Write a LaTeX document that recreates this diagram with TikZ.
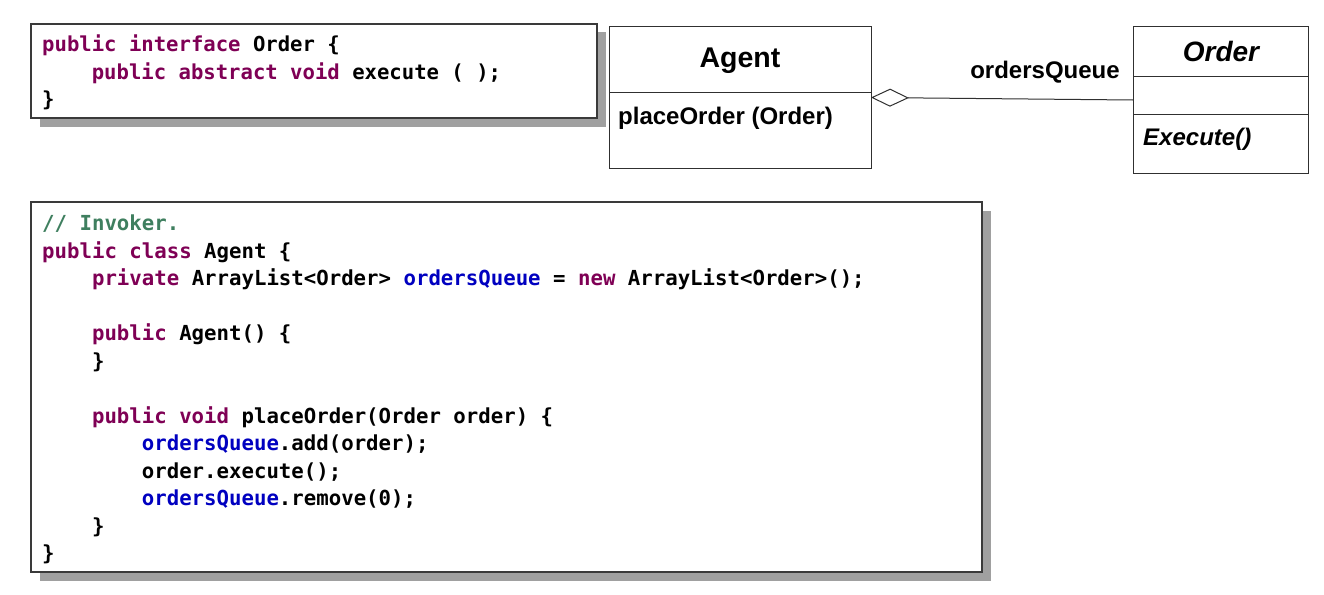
\documentclass[tikz,border=0pt]{standalone}
\usepackage{fontspec}
\setmainfont{Liberation Sans}
\newfontfamily\codefam{DejaVu Sans Mono}
\usetikzlibrary{arrows.meta,shadows}
\definecolor{kwc}{HTML}{7F0055}
\definecolor{fldc}{HTML}{0000C0}
\definecolor{cmtc}{HTML}{3F7F5F}
\definecolor{shadowgray}{HTML}{A0A0A0}
\definecolor{borderc}{HTML}{3A3A3A}
\definecolor{linec}{HTML}{303030}
\newcommand\kw[1]{\textcolor{kwc}{#1}}
\newcommand\fd[1]{\textcolor{fldc}{#1}}
\newcommand\cm[1]{\textcolor{cmtc}{#1}}
\newcommand\ind{\hphantom{0000}}
\newcommand\codesize{\codefam\bfseries\fontsize{20.6}{27.3}\selectfont}
\newcommand\codesizeB{\codefam\bfseries\fontsize{20.7}{27.5}\selectfont}
\tikzset{
  codebox/.style={draw=borderc, line width=1.3pt, fill=white, inner sep=0pt, outer sep=0pt,
    anchor=north west,
    drop shadow={shadow xshift=8.5pt, shadow yshift=-8.5pt, fill=shadowgray, opacity=1}},
  codetext/.style={anchor=north west, align=left, inner sep=0pt, font=\codesize},
  codetextB/.style={anchor=north west, align=left, inner sep=0pt, font=\codesizeB},
  classbox/.style={draw=linec, line width=1pt, fill=white, inner sep=0pt, outer sep=0pt, anchor=north west},
  divider/.style={draw=linec, line width=1pt},
  titletext/.style={font=\bfseries\fontsize{28.5}{32}\selectfont, inner sep=0pt},
  titleitalic/.style={font=\bfseries\itshape\fontsize{28}{32}\selectfont, inner sep=0pt},
  membertext/.style={font=\bfseries\fontsize{24}{28}\selectfont, inner sep=0pt, anchor=west},
  memberitalic/.style={font=\bfseries\itshape\fontsize{24}{28}\selectfont, inner sep=0pt, anchor=west},
  aggline/.style={draw=linec, line width=1pt, {Diamond[open, length=38pt, width=18pt, line width=1pt]}-},
}
\begin{document}
\begin{tikzpicture}[x=1pt, y=-1pt]
\useasboundingbox (0,0) rectangle (1324,594);
% interface code box
\node[codebox, minimum width=566pt, minimum height=94pt] (ifacebox) at (31,24) {};
\node[codetext] (ifacecode) at (42,32.4) {%
\strut\kw{public interface} Order \{\\
\strut\ind\kw{public abstract void} execute ( );\\
\strut\}};
% big code box
\node[codebox, minimum width=951pt, minimum height=370pt] (agentbox) at (31,202) {};
\node[codetextB] (agentcode) at (42,211.2) {%
\strut\cm{// Invoker.}\\
\strut\kw{public class} Agent \{\\
\strut\ind\kw{private} ArrayList<Order> \fd{ordersQueue} = \kw{new} ArrayList<Order>();\\
\strut\\
\strut\ind\kw{public} Agent() \{\\
\strut\ind\}\\
\strut\\
\strut\ind\kw{public void} placeOrder(Order order) \{\\
\strut\ind\ind\fd{ordersQueue}.add(order);\\
\strut\ind\ind order.execute();\\
\strut\ind\ind\fd{ordersQueue}.remove(0);\\
\strut\ind\}\\
\strut\}};
% Agent class
\node[classbox, minimum width=262pt, minimum height=141pt] (agent) at (609,27) {};
\draw[divider] ([yshift=-65pt]agent.north west) -- ([yshift=-65pt]agent.north east);
\node[titletext] (agenttitle) at (740,60.5) {Agent};
\node[membertext] (agentop) at (618,118) {placeOrder (Order)};
% Order class
\node[classbox, minimum width=175pt, minimum height=146pt] (order) at (1133,27) {};
\draw[divider] ([yshift=-49pt]order.north west) -- ([yshift=-49pt]order.north east);
\draw[divider] ([yshift=-87pt]order.north west) -- ([yshift=-87pt]order.north east);
\node[titleitalic] (ordertitle) at (1221,51) {Order};
\node[memberitalic] (orderop) at (1143,139) {Execute()};
% aggregation
\draw[aggline] (agent.east) -- (order.west);
\node[membertext, anchor=center] (rolelabel) at (1045,72) {ordersQueue};
\end{tikzpicture}
\end{document}
